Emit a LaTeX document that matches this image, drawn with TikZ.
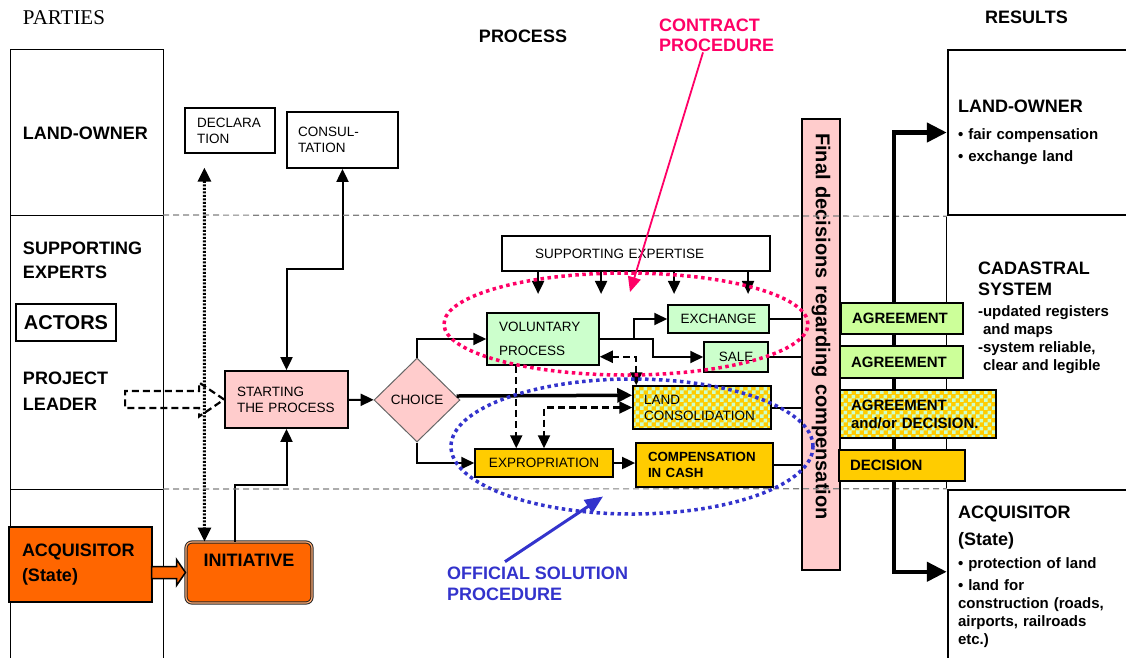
\documentclass[tikz,border=0pt]{standalone}
\usepackage{fontspec}
\setmainfont{Liberation Sans}
\newfontfamily\partiesfont{Liberation Serif}
\usepackage{xcolor}
\usepackage{tikz}
\usetikzlibrary{
    calc,
    arrows.meta,
    shapes.geometric,
    patterns
}
\definecolor{rose}{HTML}{FFCCCC}
\definecolor{mint}{HTML}{CCFFCC}
\definecolor{agreen}{HTML}{CCFF99}
\definecolor{gold}{HTML}{FFCC00}
\definecolor{acqorange}{HTML}{FF6600}
\definecolor{contractpink}{HTML}{FF0066}
\definecolor{officialblue}{HTML}{3333CC}
\pgfdeclarepatternformonly{checks}{\pgfpointorigin}{\pgfqpoint{8pt}{8pt}}{\pgfqpoint{8pt}{8pt}}{%
    \pgfpathrectangle{\pgfpointorigin}{\pgfqpoint{4pt}{4pt}}%
    \pgfpathrectangle{\pgfqpoint{4pt}{4pt}}{\pgfqpoint{4pt}{4pt}}%
    \pgfusepath{fill}}
\tikzset{
    >={Triangle[length=13pt,width=12pt]},
    box/.style={draw, line width=1.8pt, inner sep=0pt, align=left},
    smalltxt/.style={font=\fontsize{13.5}{16}\selectfont},
    headtxt/.style={inner sep=0pt, font=\bfseries\fontsize{18}{24}\selectfont},
    restxt/.style={font=\bfseries\fontsize{15}{18}\selectfont},
    checkfill/.style={preaction={fill=gold}, pattern=checks, pattern color=mint},
    dashpat/.style={line width=2.2pt, dash pattern=on 7pt off 4pt},
    dotarrow/.style={line width=3pt, dash pattern=on 2pt off 1.5pt, >={Triangle[length=14pt,width=13pt]}},
    dotline/.style={line width=3.5pt, dash pattern=on 3.5pt off 3.5pt},
    bigline/.style={line width=4.5pt, >={Triangle[length=20pt,width=19pt]}}
}

\begin{document}
\begin{tikzpicture}[x=1pt,y=-1pt,line width=2pt]
        \useasboundingbox (0,0) rectangle (1126,657);
        \clip (0,0) rectangle (1126,657);

        \draw (22,18) node[anchor=west, inner sep=0pt, font=\partiesfont\fontsize{21}{24}\selectfont](parties){PARTIES};
        \draw (523,36) node[headtxt](process){PROCESS};
        \draw (1026.5,17) node[headtxt](results){RESULTS};
        \draw (658,35) node[headtxt, anchor=west, align=left, text=contractpink, font=\bfseries\fontsize{18}{20}\selectfont](cp){CONTRACT\\PROCEDURE};

        \draw[line width=1pt] (10,660) -- (10,49) -- (163,49) -- (163,660);
        \draw[line width=1pt] (10,215) -- (163,215);
        \draw[line width=1pt] (10,489) -- (163,489);

        \draw (22,133) node[headtxt, anchor=west](lo){LAND-OWNER};
        \draw (22,260) node[headtxt, anchor=west, align=left](se){SUPPORTING\\EXPERTS};
        \draw (66,322.5) node[box, minimum width=100pt, minimum height=37pt, font=\bfseries\fontsize{20}{24}\selectfont](actors){ACTORS};
        \draw (22,391) node[headtxt, anchor=west, align=left, font=\bfseries\fontsize{18}{26}\selectfont](pl){PROJECT\\LEADER};
        \draw (80.5,564.5) node[box, fill=acqorange, minimum width=143pt, minimum height=75pt, text width=117pt, font=\bfseries\fontsize{18}{25}\selectfont](acq){ACQUISITOR\\(State)};
        \draw (249,572.5) node[draw=black!85, double=acqorange!55, double distance=1.2pt, line width=1pt, rounded corners=6pt, fill=acqorange, inner sep=0pt, minimum width=126pt, minimum height=61pt, text depth=25pt, font=\bfseries\fontsize{18}{24}\selectfont](init){INITIATIVE};

        \draw (230,130.5) node[box, line width=1.2pt, minimum width=90pt, minimum height=45pt, text width=66pt, smalltxt](decl){DECLARA\\TION};
        \draw (342.5,140) node[box, minimum width=111pt, minimum height=56pt, text width=89pt, smalltxt](cons){CONSUL-\\TATION};
        \draw (286.5,399.5) node[box, fill=rose, minimum width=123pt, minimum height=57pt, text width=99pt, smalltxt](start){STARTING\\THE PROCESS};

        \draw[<->] (start.north) -- ++(0,-101) -| (cons.south);
        \draw[->] ($(init.north west)+(49,0)$) -- ++(0,-57) -| (start.south);
        \draw[<->, dotarrow] ($(decl.south west)+(20,14)$) -- ($(init.north west)+(19,0)$);
        \draw[dashpat] (start.west) -- ++(-25,-17) -- ++(0,8.5) -- ++(-74,0) -- ++(0,17) -- ++(74,0) -- ++(0,8.5) -- cycle;
        \draw[fill=acqorange, line width=1.5pt] (init.west) -- ++(-9,-13) -- ++(0,7) -- ++(-25,0) -- ++(0,12) -- ++(25,0) -- ++(0,7) -- cycle;

        \draw (636,253.5) node[box, minimum width=268pt, minimum height=35pt, text width=202pt, smalltxt](sup){SUPPORTING EXPERTISE};
        \draw[->] ($(sup.south west)+(37,0)$) -- ++(0,22);
        \draw[->] ($(sup.south west)+(100,0)$) -- ++(0,22);
        \draw[->] ($(sup.south west)+(173,0)$) -- ++(0,22);
        \draw[->] ($(sup.south west)+(247,0)$) -- ++(0,22);

        \draw (417,400) node[diamond, aspect=1, draw=black!60, line width=1pt, fill=rose, minimum width=86pt, minimum height=84pt, inner sep=0pt, smalltxt](choice){CHOICE};
        \draw (543,339) node[box, line width=1.5pt, fill=mint, minimum width=112pt, minimum height=52pt, text width=88pt, font=\fontsize{13.5}{24}\selectfont](vol){VOLUNTARY\\PROCESS};
        \draw (718.5,319) node[box, line width=1.5pt, fill=mint, minimum width=101pt, minimum height=28pt, smalltxt](exch){EXCHANGE};
        \draw (736,357) node[box, line width=1.5pt, fill=mint, minimum width=64pt, minimum height=30pt, smalltxt](sale){SALE};
        \draw (702,407.5) node[box, line width=1.5pt, checkfill, minimum width=138pt, minimum height=43pt, text width=116pt, smalltxt](landc){LAND\\CONSOLIDATION};
        \draw (544,463) node[box, line width=1.5pt, fill=gold, minimum width=138pt, minimum height=28pt, smalltxt](expr){EXPROPRIATION};
        \draw (704.5,465) node[box, fill=gold, minimum width=137pt, minimum height=44pt, text width=113pt, font=\bfseries\fontsize{13.3}{16}\selectfont](cash){COMPENSATION\\IN CASH};

        \draw[->] (start) -- (choice);
        \draw[->] (choice.north) |- (vol.west);
        \draw[->, line width=3.5pt, >={Triangle[length=15pt,width=14pt]}] ($(choice.east)+(-4,-4)$) -- ($(landc.north west)+(0,10)$);
        \draw[->] (choice.south) |- (expr.west);
        \draw[->] (vol.east) -- ++(34,0) |- (exch.west);
        \draw[->] (vol.east) -- ++(53,0) |- (sale.west);
        \draw[<->, dashpat] ($(vol.south east)+(0,-9)$) -| ($(landc.north west)+(4,0)$);
        \draw[->, dashpat] ($(vol.south west)+(30,0)$) -- ($(expr.north west)+(42,0)$);
        \draw[<->, dashpat] (landc.west) -| (expr.north);
        \draw[->] (expr.east) -- (expr.east -| cash.west);

        \draw (821,344.5) node[rotate=-90, draw, line width=1.2pt, fill=rose, minimum width=451pt, minimum height=38pt, inner sep=0pt, text width=423pt, align=left, font=\bfseries\fontsize{20}{24}\selectfont](final){Final decisions regarding compensation};
        \draw (exch.east) -- (exch.east -| final.south);
        \draw (sale.east) -- (sale.east -| final.south);
        \draw (landc.east) -- (landc.east -| final.south);
        \draw (cash.east) -- (cash.east -| final.south);

        \draw (1044,132.5) node[box, line width=2.5pt, minimum width=192pt, minimum height=165pt, text width=172pt, font=\bfseries\fontsize{15}{22}\selectfont](reslo){{\fontsize{18}{22}\selectfont LAND-OWNER}\\[5pt]\textbullet\ fair compensation\\\textbullet\ exchange land};
        \draw (1044,577) node[box, line width=2.5pt, minimum width=192pt, minimum height=174pt, text width=172pt, restxt](resaq){{\fontsize{18}{18}\selectfont ACQUISITOR}\\[9pt]{\fontsize{18}{18}\selectfont (State)}\\[5pt]\textbullet\ protection of land\\[4pt]\textbullet\ land for\\construction (roads,\\airports, railroads\\etc.)};
        \draw[line width=1.2pt] (reslo.south west) -- (resaq.north west);
        \draw (977,260.5) node[anchor=north west, inner sep=0pt, align=left, restxt](cad){{\fontsize{18}{18}\selectfont CADASTRAL}\\[3pt]{\fontsize{18}{18}\selectfont SYSTEM}\\[3pt]-updated registers\\\hspace*{5pt}and maps\\-system reliable,\\\hspace*{5pt}clear and legible};

        \draw[gray, line width=1.2pt, dash pattern=on 6pt off 4pt] (163,215) -- (reslo.south west);
        \draw[gray, line width=1.2pt, dash pattern=on 6pt off 4pt] (163,489) -- (resaq.north west);

        \draw (902,318.5) node[box, fill=agreen, minimum width=122pt, minimum height=31pt, text width=100pt, restxt](agr1){AGREEMENT};
        \draw (901.5,362) node[box, fill=agreen, minimum width=123pt, minimum height=32pt, text width=101pt, restxt](agr2){AGREEMENT};
        \draw (918,414) node[box, checkfill, minimum width=156pt, minimum height=48pt, text width=134pt, restxt](agr3){AGREEMENT\\and/or DECISION.};
        \draw (902,465.5) node[box, fill=gold, minimum width=126pt, minimum height=31pt, text width=104pt, restxt](dec){DECISION};

        \draw[->, bigline] ($(agr1.north west)+(54,0)$) |- (reslo.west);
        \draw[bigline] ($(agr1.south west)+(54,0)$) -- ($(agr2.north west)+(55,0)$);
        \draw[bigline] ($(agr2.south west)+(55,0)$) -- ($(agr3.north west)+(55,0)$);
        \draw[bigline] ($(agr3.south west)+(55,0)$) -- ($(dec.north west)+(56,0)$);
        \draw[->, bigline] ($(dec.south west)+(56,0)$) |- ($(resaq.north west)+(0,83)$);

        \draw (626,324) node[ellipse, draw=contractpink, dotline, minimum width=364pt, minimum height=102pt](contr){};
        \draw (632,446.5) node[ellipse, draw=officialblue, dotline, minimum width=362pt, minimum height=135pt](offic){};

        \draw[->, contractpink, line width=1.8pt, >={Triangle[length=15pt,width=13pt]}] ($(cp.south west)+(45,0)$) -- ($(contr.center)+(4,-32)$);
        \draw (446,583.5) node[anchor=west, inner sep=0pt, align=left, text=officialblue, font=\bfseries\fontsize{18}{21}\selectfont](offtxt){OFFICIAL SOLUTION\\PROCEDURE};
        \draw[->, officialblue, line width=3pt, >={Triangle[length=18pt,width=15pt]}] ($(offtxt.north west)+(59,-4)$) -- ($(offic.center)+(-29,50)$);
\end{tikzpicture}
\end{document}
